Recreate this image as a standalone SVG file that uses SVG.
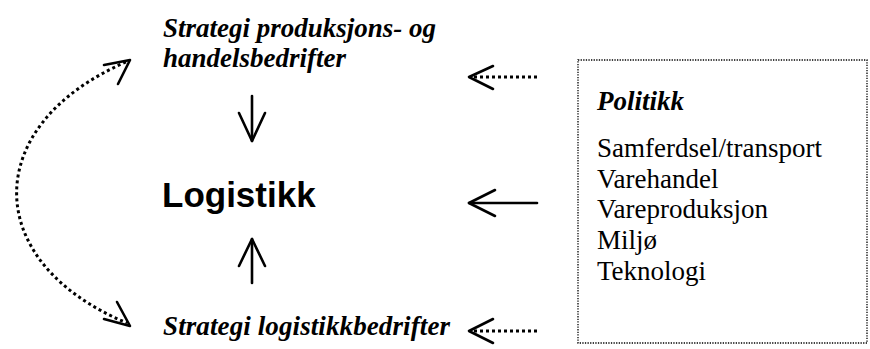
<svg xmlns="http://www.w3.org/2000/svg" width="870" height="349" viewBox="0 0 870 349">
<style>
.t{font-family:"Liberation Serif","Times New Roman",serif;font-size:27px;fill:#000}
.bi{font-weight:bold;font-style:italic}
.big{font-family:"Liberation Sans",Arial,sans-serif;font-size:35px;font-weight:bold;fill:#000}
.solid{fill:none;stroke:#000;stroke-width:2.6;stroke-linecap:round;stroke-linejoin:round}
.dot{fill:none;stroke:#000;stroke-width:3;stroke-dasharray:3 3}
.box{fill:none;stroke:#000;stroke-width:1.3;stroke-dasharray:1.3 1.3}
</style>
<rect width="870" height="349" fill="#fff"/>
<g id="strategi-prod">
<text class="t bi" x="163" y="37">Strategi produksjons- og</text>
<text class="t bi" x="163" y="67">handelsbedrifter</text>
</g>
<g id="logistikk">
<text class="big" x="162" y="207">Logistikk</text>
</g>
<g id="strategi-log">
<text class="t bi" x="163" y="335" textLength="287">Strategi logistikkbedrifter</text>
</g>
<g id="politikk">
<rect class="box" x="578" y="60" width="289" height="283"/>
<text class="t bi" x="597" y="110">Politikk</text>
<text class="t" x="597" y="157">Samferdsel/transport</text>
<text class="t" x="597" y="188">Varehandel</text>
<text class="t" x="597" y="218">Vareproduksjon</text>
<text class="t" x="597" y="249">Miljø</text>
<text class="t" x="597" y="280">Teknologi</text>
</g>
<g id="connectors">
<line class="solid" x1="252" y1="96" x2="252" y2="141"/>
<polyline class="solid" points="239,113 252,141 265,113"/>
<line class="solid" x1="252" y1="283" x2="252" y2="239"/>
<polyline class="solid" points="239,266 252,239 265,266"/>
<line class="solid" x1="537" y1="203" x2="469" y2="203"/>
<polyline class="solid" points="495,190 469,203 495,216"/>
<line class="dot" x1="537" y1="77" x2="472" y2="77"/>
<polyline class="solid" points="493,66 469,77 493,89"/>
<line class="dot" x1="537" y1="331" x2="472" y2="331"/>
<polyline class="solid" points="493,319 469,331 493,343"/>
<path class="dot" d="M126,62 C-20,125 -20,262 127,323"/>
<polyline class="solid" points="104,65 130,60 118,84"/>
<polyline class="solid" points="104,319 130,326 117,302"/>
</g>
</svg>
